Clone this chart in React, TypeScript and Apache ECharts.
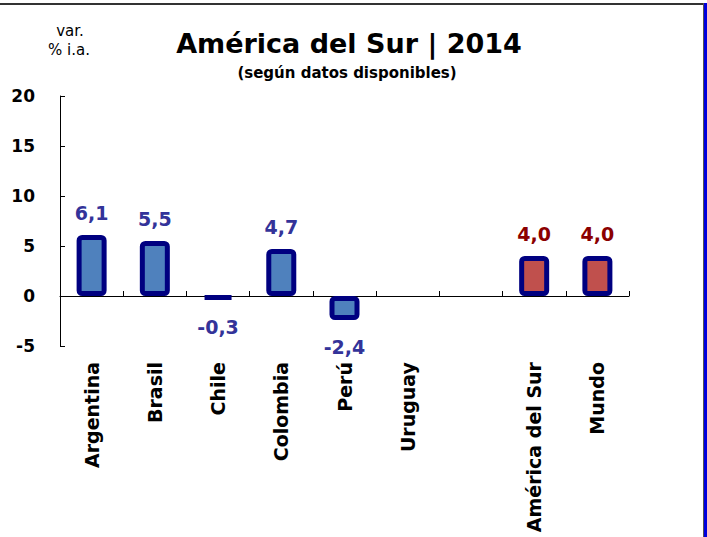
import React, { useEffect, useRef } from "react";
import * as echarts from "echarts";

const categories = ["Argentina", "Brasil", "Chile", "Colombia", "Perú", "Uruguay", "", "América del Sur", "Mundo"];
const values: (number | null)[] = [6.1, 5.5, -0.3, 4.7, -2.4, null, null, 4.0, 4.0];
const highlighted = ["América del Sur", "Mundo"];
const yTicks = { min: -5, max: 20, interval: 5 };

const FONT = "DejaVu Sans";

export default function App() {
  const ref = useRef<HTMLDivElement>(null);
  useEffect(() => {
    if (!ref.current) return;
    const chart = echarts.init(ref.current, null, { renderer: "svg" });
    const data = values.map((v, i) => {
      const hi = highlighted.includes(categories[i]);
      const neg = v !== null && v < 0;
      return {
        value: v,
        itemStyle: { color: hi ? "#C0504D" : "#4F81BD" },
        label: {
          position: neg ? "bottom" : "top",
          distance: neg ? 17 : 13,
          color: hi ? "#8B0000" : "#333399",
        },
      };
    });
    chart.setOption({
      animation: false,
      backgroundColor: "#ffffff",
      grid: { left: 60, right: 78, top: 96, bottom: 191, containLabel: false },
      graphic: [
        { type: "rect", shape: { x: 0, y: 3, width: 704, height: 2 }, style: { fill: "#333333" } },
        { type: "rect", shape: { x: 703, y: 3, width: 1, height: 534 }, style: { fill: "#555555" } },
        { type: "rect", shape: { x: 704, y: 3, width: 3, height: 534 }, style: { fill: "#0000DD" } },
        {
          type: "text", x: 349, y: 43,
          style: { text: "América del Sur | 2014", font: `bold 27px '${FONT}'`, fill: "#000", align: "center", verticalAlign: "middle" },
        },
        {
          type: "text", x: 347, y: 73,
          style: { text: "(según datos disponibles)", font: `bold 15px '${FONT}'`, fill: "#000", align: "center", verticalAlign: "middle" },
        },
        {
          type: "text", x: 70, y: 31,
          style: { text: "var.", font: `15px '${FONT}'`, fill: "#000", align: "center", verticalAlign: "middle" },
        },
        {
          type: "text", x: 69, y: 50,
          style: { text: "% i.a.", font: `15px '${FONT}'`, fill: "#000", align: "center", verticalAlign: "middle" },
        },
      ],
      xAxis: [
        {
          type: "category",
          data: categories,
          position: "bottom",
          axisLine: { show: false, onZero: false },
          axisTick: { show: false },
          axisLabel: {
            rotate: 90,
            margin: 16,
            interval: 0,
            color: "#000",
            fontFamily: FONT,
            fontWeight: "bold",
            fontSize: 19,
          },
        },
        {
          type: "category",
          data: categories,
          position: "bottom",
          axisLine: { show: true, onZero: true, lineStyle: { color: "#000", width: 1 } },
          axisTick: { show: true, inside: true, length: 5, interval: 0, lineStyle: { color: "#000" } },
          axisLabel: { show: false },
        },
      ],
      yAxis: {
        type: "value",
        min: yTicks.min,
        max: yTicks.max,
        interval: yTicks.interval,
        splitLine: { show: false },
        axisLine: { show: true, lineStyle: { color: "#000", width: 1 } },
        axisTick: { show: true, inside: true, length: 5, lineStyle: { color: "#000" } },
        axisLabel: {
          margin: 25,
          color: "#000",
          fontFamily: FONT,
          fontWeight: "bold",
          fontSize: 17,
        },
      },
      series: [
        {
          type: "bar",
          xAxisIndex: 0,
          barWidth: 30,
          data,
          itemStyle: { borderColor: "#000080", borderWidth: 5, borderRadius: 3 },
          label: {
            show: true,
            fontFamily: FONT,
            fontWeight: "bold",
            fontSize: 19,
            formatter: (p: any) => (p.value === null || p.value === undefined ? "" : Number(p.value).toFixed(1).replace(".", ",")),
          },
        },
      ],
    });
    return () => chart.dispose();
  }, []);
  return <div ref={ref} style={{ position: "fixed", left: 0, top: 0, width: 707, height: 537 }} />;
}
